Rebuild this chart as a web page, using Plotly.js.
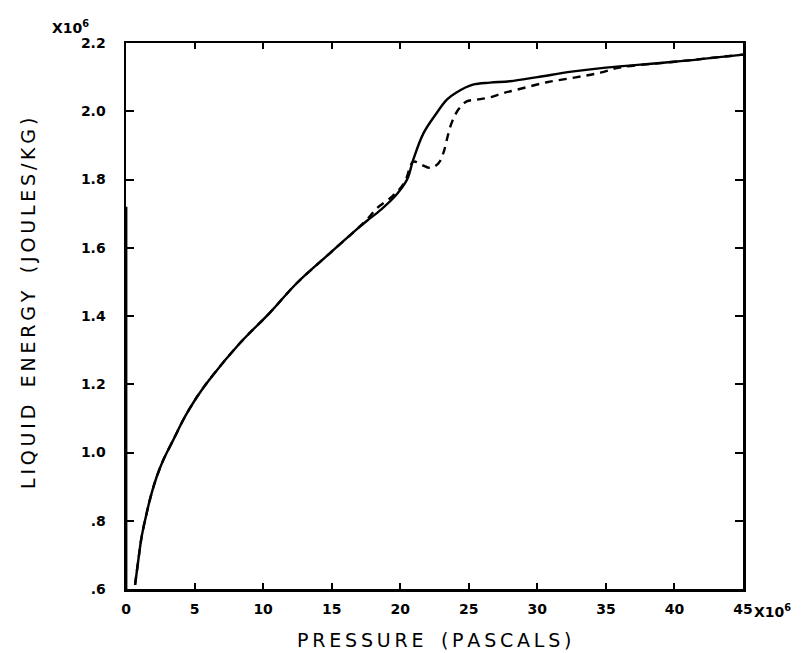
<!DOCTYPE html>
<html>
<head>
<meta charset="utf-8">
<script src="https://cdn.plot.ly/plotly-3.0.1.min.js"></script>
<style>html,body{margin:0;padding:0;background:#fff;}#chart{width:805px;height:653px;}</style>
</head>
<body>
<div id="chart"></div>
<script>
// Pressure in units of 1e6 Pa, energy in units of 1e6 J/kg
var solidX = [0.66, 0.90, 1.14, 1.51, 1.87, 2.24, 2.72, 3.45, 4.3, 5.16, 6.05, 8.3, 10.5, 12.45, 14.9, 16.8, 17.6, 18.6, 19.75, 20.5, 20.95, 21.7, 22.66, 23.4, 24.1, 25.3, 26.55, 28.0, 30.0, 32.5, 35.0, 40.0, 45.0];
var solidY = [0.612, 0.685, 0.753, 0.823, 0.881, 0.929, 0.978, 1.037, 1.105, 1.162, 1.212, 1.32, 1.41, 1.496, 1.585, 1.653, 1.680, 1.712, 1.757, 1.80, 1.858, 1.936, 1.995, 2.034, 2.055, 2.078, 2.084, 2.088, 2.10, 2.116, 2.128, 2.145, 2.166];

var dashX = [0.66, 0.90, 1.14, 1.51, 1.87, 2.24, 2.72, 3.45, 4.3, 5.16, 6.05, 8.3, 10.5, 12.45, 14.9, 16.8, 17.6, 18.3, 19.4, 20.3, 20.95, 21.57, 22.2, 22.8, 23.15, 23.4, 23.75, 24.24, 24.85, 25.6, 26.55, 27.5, 28.5, 30.7, 32.9, 34.6, 36.0, 40.0, 45.0];
var dashY = [0.612, 0.685, 0.753, 0.823, 0.881, 0.929, 0.978, 1.037, 1.105, 1.162, 1.212, 1.32, 1.41, 1.496, 1.585, 1.653, 1.684, 1.716, 1.750, 1.79, 1.852, 1.843, 1.834, 1.848, 1.878, 1.917, 1.966, 2.005, 2.029, 2.034, 2.041, 2.053, 2.063, 2.085, 2.10, 2.113, 2.128, 2.145, 2.166];

// faint vertical trace along the left edge
var edgeX = [0.03, 0.03];
var edgeY = [0.6, 1.72];

var xTickVals = [0, 5, 10, 15, 20, 25, 30, 35, 40, 45];
var xTickText = ['0', '5', '10', '15', '20', '25', '30', '35', '40', '45'];
var yTickVals = [0.6, 0.8, 1.0, 1.2, 1.4, 1.6, 1.8, 2.0, 2.2];
var yTickText = ['.6', '.8', '1.0', '1.2', '1.4', '1.6', '1.8', '2.0', '2.2'];

var xTitle = 'PRESSURE (PASCALS)';
var yTitle = 'LIQUID ENERGY (JOULES/KG)';
function spaced(s) { return s.split('').join('\u2009').replace(/\u2009 \u2009/g, '\u2009\u2009 \u2009'); }

var traces = [
  {x: dashX, y: dashY, mode: 'lines', line: {color: '#000', width: 2.4, dash: '8px,6px', shape: 'spline', smoothing: 1}, hoverinfo: 'skip'},
  {x: solidX, y: solidY, mode: 'lines', line: {color: '#000', width: 2.4, shape: 'spline', smoothing: 1}, hoverinfo: 'skip'},
  {x: edgeX, y: edgeY, mode: 'lines', line: {color: '#000', width: 2}, hoverinfo: 'skip'}
];

var tickFont = {family: 'DejaVu Sans', size: 14, color: '#000', weight: 'bold'};
var titleFont = {family: 'DejaVu Sans', size: 19, color: '#000'};

var layout = {
  width: 805, height: 653,
  margin: {l: 126, r: 62, t: 43, b: 64},
  paper_bgcolor: '#fff', plot_bgcolor: '#fff',
  showlegend: false,
  xaxis: {
    range: [0, 45], tickvals: xTickVals, ticktext: xTickText,
    ticks: 'inside', ticklen: 6, tickwidth: 2, tickcolor: '#000',
    showline: true, linewidth: 2.5, linecolor: '#000', mirror: 'ticks',
    showgrid: false, zeroline: false, tickfont: tickFont, ticklabelstandoff: 6
  },
  yaxis: {
    range: [0.6, 2.2], tickvals: yTickVals, ticktext: yTickText,
    ticks: 'inside', ticklen: 8, tickwidth: 2, tickcolor: '#000',
    showline: true, linewidth: 2.5, linecolor: '#000', mirror: 'ticks',
    showgrid: false, zeroline: false, tickfont: tickFont, ticklabelstandoff: 15
  },
  annotations: [
    {xref: 'paper', yref: 'paper', x: 0.5, y: 0, yshift: -51, text: spaced(xTitle), showarrow: false, font: titleFont, xanchor: 'center', yanchor: 'middle'},
    {xref: 'paper', yref: 'paper', x: 0, y: 0.5, xshift: -98, yshift: 12, text: spaced(yTitle), showarrow: false, textangle: -90, font: titleFont, xanchor: 'center', yanchor: 'middle'},
    {xref: 'paper', yref: 'paper', x: 0, y: 1, xshift: -76, yshift: 16, text: 'X10<sup>6</sup>', showarrow: false, font: tickFont, xanchor: 'left', yanchor: 'middle'},
    {xref: 'paper', yref: 'paper', x: 1, y: 0, xshift: 9, yshift: -22, text: 'X10<sup>6</sup>', showarrow: false, font: tickFont, xanchor: 'left', yanchor: 'middle'}
  ]
};

Plotly.newPlot('chart', traces, layout, {staticPlot: true, displayModeBar: false});
</script>
</body>
</html>
